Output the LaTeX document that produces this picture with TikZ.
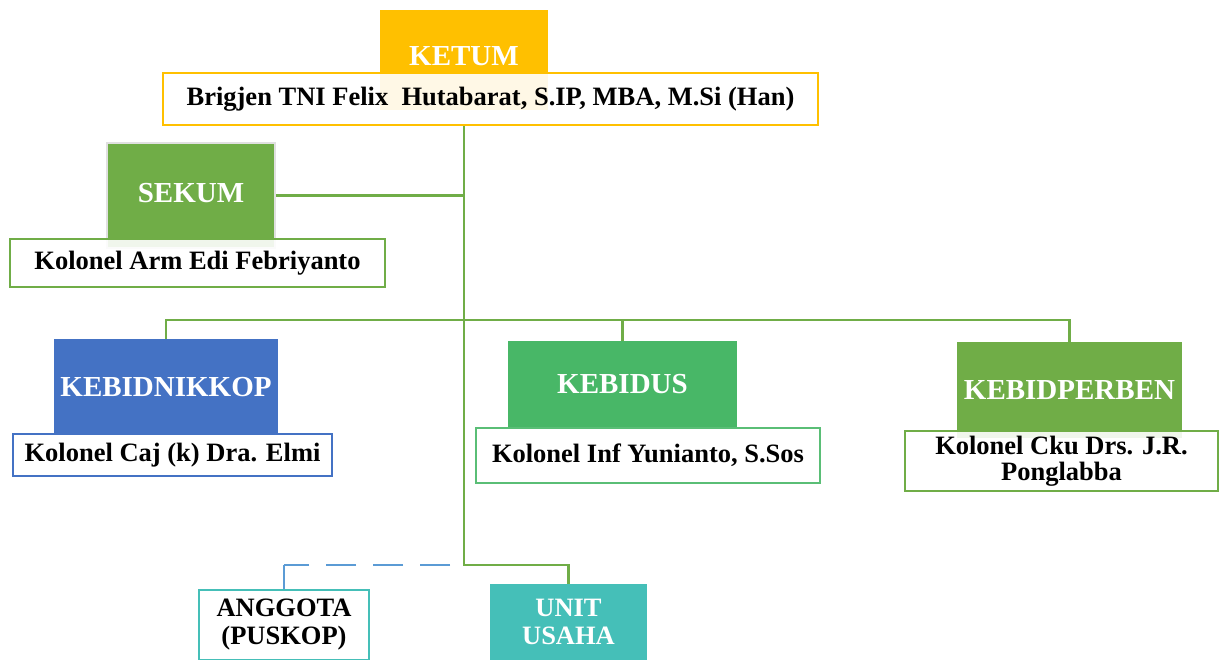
\documentclass[tikz,border=0pt]{standalone}
\usepackage{fontspec}
\setmainfont{Liberation Serif}
\usepackage{xcolor}
\definecolor{ketumgold}{HTML}{FFC000}
\definecolor{sekumgreen}{HTML}{70AD47}
\definecolor{nikkopblue}{HTML}{4472C4}
\definecolor{bidusgreen}{HTML}{48B767}
\definecolor{unitteal}{HTML}{45BFB8}
\definecolor{dashblue}{HTML}{5B9BD5}
\newcommand{\headfont}{\fontsize{29}{34}\selectfont\bfseries}
\newcommand{\namefont}{\fontsize{26.5}{28}\selectfont\bfseries}

\begin{document}
\begin{tikzpicture}[x = 1pt, y = -1pt,
    headbox/.style = {rectangle, text = white, font = \headfont, inner sep = 0pt, align = center},
    namebox/.style = {draw, rectangle, line width = 2.5pt, fill = white, fill opacity = 0.9, text opacity = 1, font = \namefont, inner sep = 0pt, align = center},
    link/.style = {draw = sekumgreen, line width = 2.5pt}]

        \useasboundingbox (0, 0) rectangle (1219, 660);

        % Top
        \node [headbox, fill = ketumgold, minimum width = 168pt, minimum height = 100pt] (ketum) at (464, 60) {\raisebox{7pt}{KETUM}};
        \node [namebox, draw = ketumgold, minimum width = 655pt, minimum height = 52pt] (ketumname) at (490.5, 99) {Brigjen TNI Felix\ \ Hutabarat, S.IP, MBA, M.Si (Han)};

        \node [headbox, fill = sekumgreen, draw = black!12, line width = 1.5pt, minimum width = 168pt, minimum height = 105pt] (sekum) at (191, 195.5) {\raisebox{5pt}{SEKUM}};
        \node [namebox, draw = sekumgreen, minimum width = 375pt, minimum height = 48pt] (sekumname) at (197.5, 263) {Kolonel Arm Edi Febriyanto};

        % Middle row
        \node [headbox, fill = nikkopblue, minimum width = 224pt, minimum height = 96pt] (nikkop) at (166, 387) {KEBIDNIKKOP};
        \node [namebox, draw = nikkopblue, minimum width = 319pt, minimum height = 42pt] (nikkopname) at (172.5, 455) {Kolonel Caj (k) Dra. Elmi};

        \node [headbox, fill = bidusgreen, minimum width = 229pt, minimum height = 87pt] (bidus) at (622.5, 384.5) {KEBIDUS};
        \node [namebox, draw = bidusgreen!90!white, minimum width = 344pt, minimum height = 55pt] (bidusname) at (648, 455.5) {Kolonel Inf Yunianto, S.Sos};

        \node [headbox, fill = sekumgreen, minimum width = 225pt, minimum height = 96pt] (perben) at (1069.5, 390) {KEBIDPERBEN};
        \node [namebox, draw = sekumgreen, minimum width = 313pt, minimum height = 60pt] (perbenname) at (1061.5, 461) {\raisebox{-2pt}{Kolonel Cku Drs. J.R.}\\Ponglabba};

        % Bottom
        \node [namebox, draw = unitteal, minimum width = 170pt, minimum height = 70pt] (anggota) at (284, 625) {ANGGOTA\\(PUSKOP)};
        \node [headbox, fill = unitteal, font = \namefont, minimum width = 157pt, minimum height = 76pt] (unit) at (568.5, 622) {UNIT\\USAHA};

        \coordinate (bus) at (464, 320);
        \coordinate (splitlow) at (464, 565);
        \coordinate (dashcorner) at (anggota.north |- splitlow);

        % Lines
        \draw [link] (ketum.south |- ketumname.south) -- (splitlow) -| (unit.north);
        \draw [link] (sekum.east) -- (sekum.east -| ketum.south);
        \draw [link] (nikkop.north) |- (bus) -| (perben.north);
        \draw [link] (bidus.north) -- (bidus.north |- bus);
        \draw [draw = dashblue, line width = 1.5pt, dash pattern = on 30pt off 17pt, dash phase = 33pt] (splitlow) -- (dashcorner);
        \draw [draw = dashblue, line width = 1.5pt] (dashcorner) -- (anggota.north);

    \end{tikzpicture}
\end{document}
